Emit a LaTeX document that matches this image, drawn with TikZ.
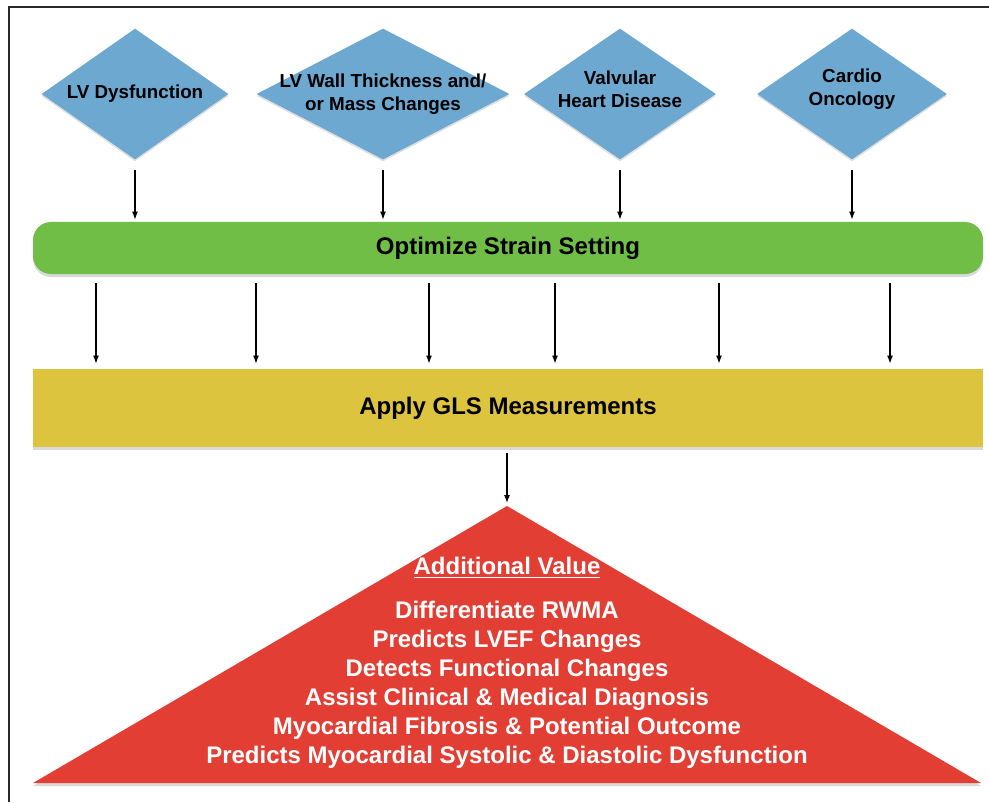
\documentclass[tikz,border=0pt]{standalone}
\usepackage{fontspec}
\setmainfont{Liberation Sans}
\usetikzlibrary{shapes.geometric,arrows.meta,shadows}
\definecolor{dxblue}{RGB}{108,168,208}
\definecolor{optgreen}{RGB}{112,190,70}
\definecolor{glsyellow}{RGB}{221,196,62}
\definecolor{valred}{RGB}{227,62,52}
\definecolor{framegray}{RGB}{40,40,40}

\begin{document}
\begin{tikzpicture}[x=0.5pt,y=-0.5pt,
	cond/.style={diamond,fill=dxblue,minimum height=65.5pt,inner sep=0pt,
	drop shadow={shadow xshift=0pt,shadow yshift=-1pt,opacity=.25}},
	condtext/.style={align=center,font=\fontsize{9.4}{11.5}\selectfont\bfseries,inner sep=0pt},
	bar/.style={minimum width=475pt,font=\fontsize{12}{14.5}\selectfont\bfseries,
	drop shadow={shadow xshift=0pt,shadow yshift=-1.5pt,opacity=.3}},
	arr/.style={-{Latex[length=4pt,width=3pt]},line width=0.6pt}]
\useasboundingbox (0,0) rectangle (989,802);
\draw[framegray,line width=1pt] (9,802) -- (9,7) -- (989,7);

\node[cond,minimum width=93.5pt] (lvd) at (135,94) {};
\node[cond,minimum width=126.5pt] (lvw) at (383,94) {};
\node[cond,minimum width=96pt] (vhd) at (620,94) {};
\node[cond,minimum width=95pt] (onco) at (852,94) {};
\node[condtext] (lvd-t) at (lvd) {LV Dysfunction};
\node[condtext] (lvw-t) at (lvw) {LV Wall Thickness and/\\or Mass Changes};
\node[condtext] (vhd-t) at ([yshift=2.5pt]vhd.center) {Valvular\\Heart Disease};
\node[condtext] (onco-t) at ([yshift=2.5pt]onco.center) {Cardio\\Oncology};

\node[bar,fill=optgreen,rounded corners=9pt,minimum height=26pt] (opt) at (508,248) {Optimize Strain Setting};
\node[bar,fill=glsyellow,minimum height=39pt] (gls) at (508,408) {Apply GLS Measurements};

\coordinate (apex) at (507,506);
\fill[valred,drop shadow={shadow xshift=0pt,shadow yshift=-1.5pt,opacity=.3}] (apex) -- (33,783) -- (981,783) -- cycle;
\node[white,align=center,font=\fontsize{12}{14.5}\selectfont\bfseries] (value) at (507,663)
	{\underline{Additional Value}\\[7.5pt]
	Differentiate RWMA\\
	Predicts LVEF Changes\\
	Detects Functional Changes\\
	Assist Clinical \& Medical Diagnosis\\
	Myocardial Fibrosis \& Potential Outcome\\
	Predicts Myocardial Systolic \& Diastolic Dysfunction};

\draw[arr,shorten <=5pt,shorten >=1pt] (lvd.south) -- (lvd.south |- opt.north);
\draw[arr,shorten <=5pt,shorten >=1pt] (lvw.south) -- (lvw.south |- opt.north);
\draw[arr,shorten <=5pt,shorten >=1pt] (vhd.south) -- (vhd.south |- opt.north);
\draw[arr,shorten <=5pt,shorten >=1pt] (onco.south) -- (onco.south |- opt.north);

\draw[arr,shorten <=4.5pt,shorten >=2.5pt] (opt.south -| 96,0) -- (gls.north -| 96,0);
\draw[arr,shorten <=4.5pt,shorten >=2.5pt] (opt.south -| 256,0) -- (gls.north -| 256,0);
\draw[arr,shorten <=4.5pt,shorten >=2.5pt] (opt.south -| 429,0) -- (gls.north -| 429,0);
\draw[arr,shorten <=4.5pt,shorten >=2.5pt] (opt.south -| 555,0) -- (gls.north -| 555,0);
\draw[arr,shorten <=4.5pt,shorten >=2.5pt] (opt.south -| 719,0) -- (gls.north -| 719,0);
\draw[arr,shorten <=4.5pt,shorten >=2.5pt] (opt.south -| 890,0) -- (gls.north -| 890,0);

\draw[arr,shorten <=3pt,shorten >=1.5pt] (gls.south -| apex) -- (apex);
\end{tikzpicture}
\end{document}
